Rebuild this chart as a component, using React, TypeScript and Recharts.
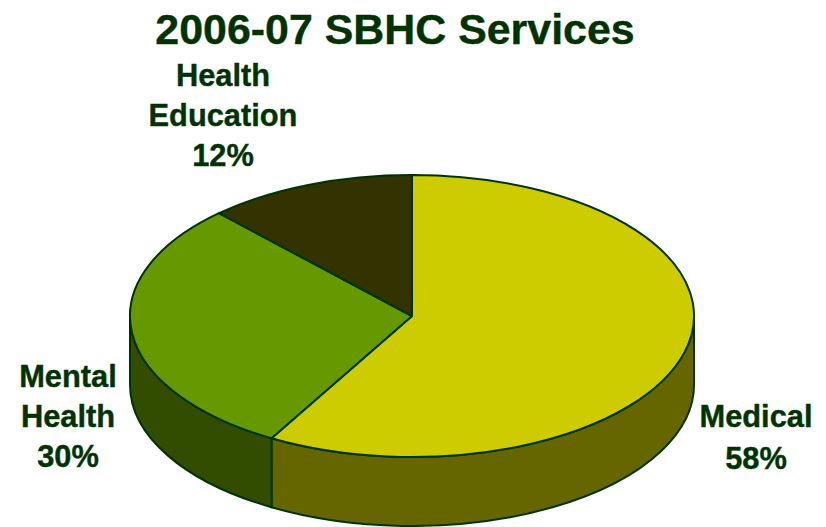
import React from "react"
import { PieChart, Pie } from "recharts"

const categories = ["Medical", "Mental Health", "Health Education"]
const shares = [58.3, 29.7, 12]
const topColors = ["#cccc00", "#669900", "#333300"]
const sideColors = ["#666600", "#334d00", "#1a1a00"]
const labelCenters = [
  { x: 756, y: 427 },
  { x: 68, y: 387 },
  { x: 223, y: 86 },
]

const INK = "#003300"
const FONT = "'Liberation Sans', Arial, sans-serif"
const CX = 412
const CY = 316
const RX = 282
const SQUASH = 0.5
const DEPTH = 69

const topData = categories.map((name, i) => ({ name, value: shares[i], fill: topColors[i] }))
const sideData = categories.map((name, i) => ({ name, value: shares[i], fill: sideColors[i] }))

// recharts only knows circles, so the sectors get flattened here
const pt = (cx: number, cy: number, r: number, deg: number, dy = 0) => {
  const a = (deg * Math.PI) / 180
  return `${cx + r * Math.cos(a)} ${cy - r * SQUASH * Math.sin(a) + dy}`
}

function TopSlice(props: any) {
  const { cx, cy, outerRadius: r, startAngle: s, endAngle: e, fill } = props
  const large = Math.abs(s - e) > 180 ? 1 : 0
  const d = `M ${cx} ${cy} L ${pt(cx, cy, r, s)} A ${r} ${r * SQUASH} 0 ${large} 1 ${pt(cx, cy, r, e)} Z`
  return <path d={d} fill={fill} stroke={INK} strokeWidth={2} strokeLinejoin="round" />
}

function SideSlice(props: any) {
  const { cx, cy, outerRadius: r, startAngle: s, endAngle: e, fill } = props
  // only the front half of the rim can be seen
  const hi = Math.min(s, 0)
  const lo = Math.max(e, -180)
  if (hi <= lo) return <g />
  const ry = r * SQUASH
  const d =
    `M ${pt(cx, cy, r, hi)} A ${r} ${ry} 0 0 1 ${pt(cx, cy, r, lo)} ` +
    `L ${pt(cx, cy, r, lo, DEPTH)} A ${r} ${ry} 0 0 0 ${pt(cx, cy, r, hi, DEPTH)} Z`
  return <path d={d} fill={fill} stroke={INK} strokeWidth={2} strokeLinejoin="round" />
}

function SliceLabel(props: any) {
  const { index, name, value } = props
  const lines = [...String(name).split(" "), `${Math.round(value)}%`]
  const c = labelCenters[index]
  const step = index === 0 ? 41.5 : 40
  return (
    <text
      x={c.x}
      y={c.y}
      textAnchor="middle"
      fill={INK}
      stroke={INK}
      strokeWidth={0.4}
      fontFamily={FONT}
      fontWeight="bold"
      fontSize={30.8}
    >
      {lines.map((line, i) => (
        <tspan key={line} x={c.x} y={c.y + i * step}>
          {line}
        </tspan>
      ))}
    </text>
  )
}

export default function App() {
  return (
    <div style={{ position: "fixed", left: 0, top: 0, width: 826, height: 527, background: "#fff" }}>
      <PieChart width={826} height={527} margin={{ top: 0, right: 0, bottom: 0, left: 0 }}>
        <text
          x={395}
          y={44}
          textAnchor="middle"
          fill={INK}
          stroke={INK}
          strokeWidth={0.4}
          fontFamily={FONT}
          fontWeight="bold"
          fontSize={42.9}
        >
          2006-07 SBHC Services
        </text>
        <Pie
          data={sideData}
          dataKey="value"
          nameKey="name"
          cx={CX}
          cy={CY}
          outerRadius={RX}
          startAngle={90}
          endAngle={-270}
          shape={SideSlice}
          isAnimationActive={false}
        />
        <Pie
          data={topData}
          dataKey="value"
          nameKey="name"
          cx={CX}
          cy={CY}
          outerRadius={RX}
          startAngle={90}
          endAngle={-270}
          shape={TopSlice}
          label={SliceLabel}
          labelLine={false}
          isAnimationActive={false}
        />
      </PieChart>
    </div>
  )
}
